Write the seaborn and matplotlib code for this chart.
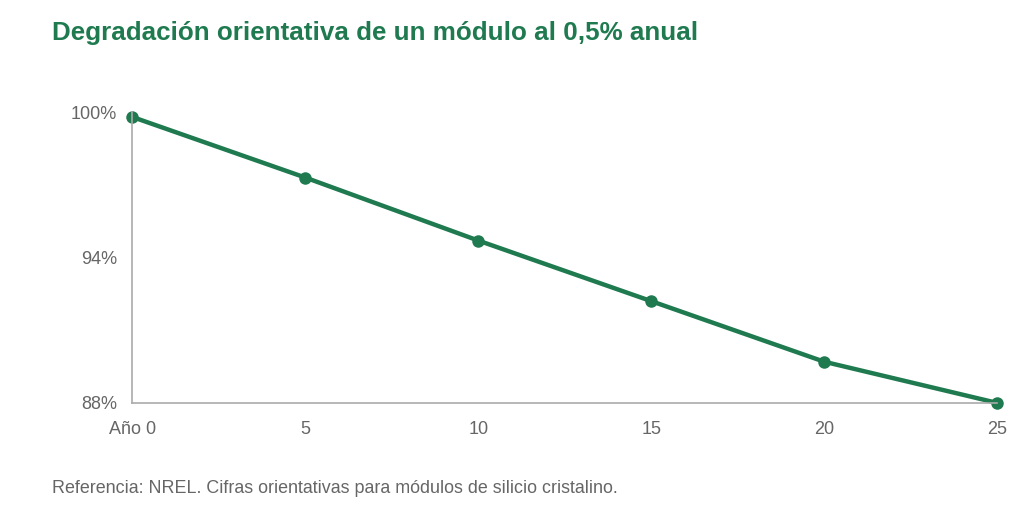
import seaborn as sns
import matplotlib.pyplot as plt
import pandas as pd

sns.set_style("white")
plt.rcParams['font.family'] = ['Liberation Sans', 'DejaVu Sans']

# data
years = [0, 5, 10, 15, 20, 25]
year_labels = ["Año 0", "5", "10", "15", "20", "25"]
performance = [99.8, 97.3, 94.7, 92.2, 89.7, 88.0]
y_ticks = [88, 94, 100]
y_tick_labels = ["88%", "94%", "100%"]

green = "#1f7a50"
gray_text = "#666666"

df = pd.DataFrame({"year": years, "perf": performance})

fig = plt.figure(figsize=(10.24, 5.14), dpi=100)
ax = fig.add_axes([0.129, 0.216, 0.845, 0.566])

sns.lineplot(data=df, x="year", y="perf", ax=ax, color=green, linewidth=3.2,
             marker="o", markersize=9, markeredgewidth=0, clip_on=False)

ax.set_xlim(0, 25)
ax.set_ylim(88, 100)
ax.set_xticks(years)
ax.set_xticklabels(year_labels)
ax.set_yticks(y_ticks)
ax.set_yticklabels(y_tick_labels)
ax.set_xlabel("")
ax.set_ylabel("")

for s in ["top", "right"]:
    ax.spines[s].set_visible(False)
for s in ["left", "bottom"]:
    ax.spines[s].set_color("#aaaaaa")
    ax.spines[s].set_linewidth(1.2)

ax.tick_params(axis="x", length=0, pad=13, labelsize=13, labelcolor=gray_text)
ax.tick_params(axis="y", length=0, pad=11, labelsize=13, labelcolor=gray_text)

fig.text(0.051, 0.935, "Degradación orientativa de un módulo al 0,5% anual",
         fontsize=18.7, fontweight="bold", color=green, va="center", ha="left")
fig.text(0.051, 0.050, "Referencia: NREL. Cifras orientativas para módulos de silicio cristalino.",
         fontsize=12.9, color=gray_text, va="center", ha="left")

fig.savefig("out.png", dpi=100)
